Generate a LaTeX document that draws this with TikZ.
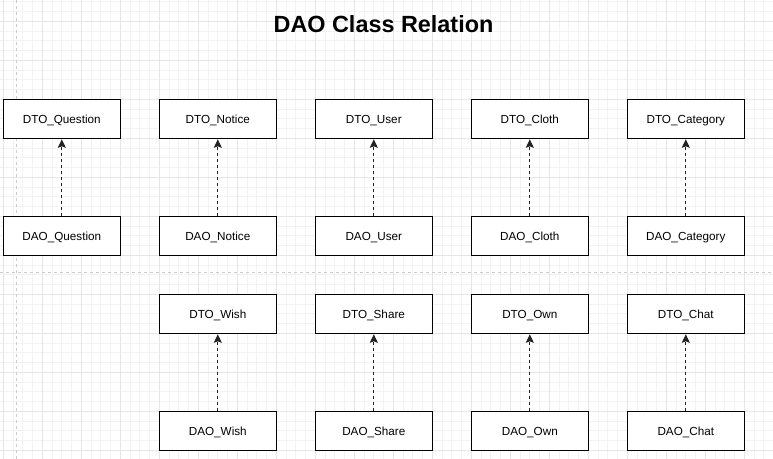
\documentclass[tikz,border=0pt]{standalone}
\usepackage{fontspec}
\setmainfont{Liberation Sans}
\usetikzlibrary{arrows.meta}
\definecolor{gridminor}{HTML}{F3F3F3}
\definecolor{gridmajor}{HTML}{E6E6E6}
\definecolor{sepcol}{HTML}{CCCCCC}
\definecolor{arrcol}{HTML}{222222}
\tikzset{
  cls/.style={draw=black, line width=1bp, fill=white, minimum width=117bp, minimum height=39bp, inner sep=0pt, text height=8.8bp, text depth=0bp, font=\fontsize{11.7bp}{13bp}\selectfont},
  dep/.style={draw=arrcol, line width=1.1bp, dash pattern=on 3bp off 3bp, -{Stealth[length=8.5bp,width=8bp,inset=1.5bp]}, shorten >=0.5bp},
  sep/.style={draw=sepcol, line width=1bp, dash pattern=on 3bp off 3bp}
}
\begin{document}
\begin{tikzpicture}[x=1bp,y=-1bp]
\useasboundingbox (0,0) rectangle (773,459);
\fill[white] (0,0) rectangle (773,459);
% minor grid
\foreach \i in {0,...,79} {
  \pgfmathsetmacro{\gx}{3.3+9.75*\i}
  \draw[gridminor, line width=1bp] (\gx,0) -- (\gx,459);
}
\foreach \i in {0,...,47} {
  \pgfmathsetmacro{\gy}{1.8+9.75*\i}
  \draw[gridminor, line width=1bp] (0,\gy) -- (773,\gy);
}
% major grid
\foreach \i in {0,...,19} {
  \pgfmathsetmacro{\gx}{3.3+39*\i}
  \draw[gridmajor, line width=1bp] (\gx,0) -- (\gx,459);
}
\foreach \i in {0,...,11} {
  \pgfmathsetmacro{\gy}{21.3+39*\i}
  \draw[gridmajor, line width=1bp] (0,\gy) -- (773,\gy);
}
% separators
\coordinate (vs1) at (16.3,0);
\coordinate (vs2) at (16.3,459);
\coordinate (hs1) at (0,273);
\coordinate (hs2) at (773,273);
\draw[sep] (vs1) -- (vs2);
\draw[sep] (hs1) -- (hs2);
% title
\node[anchor=base, font=\fontsize{23.4bp}{26bp}\selectfont\bfseries, inner sep=0pt] (title) at (383.5,33) {DAO Class Relation};
% top section
\node[cls] (dtoQ) at (61.8,118.8) {DTO\_Question};
\node[cls] (daoQ) at (61.8,235.8) {DAO\_Question};
\node[cls] (dtoN) at (217.8,118.8) {DTO\_Notice};
\node[cls] (daoN) at (217.8,235.8) {DAO\_Notice};
\node[cls] (dtoU) at (373.8,118.8) {DTO\_User};
\node[cls] (daoU) at (373.8,235.8) {DAO\_User};
\node[cls] (dtoC) at (529.8,118.8) {DTO\_Cloth};
\node[cls] (daoC) at (529.8,235.8) {DAO\_Cloth};
\node[cls] (dtoK) at (685.8,118.8) {DTO\_Category};
\node[cls] (daoK) at (685.8,235.8) {DAO\_Category};
% bottom section
\node[cls] (dtoW) at (217.8,313.8) {DTO\_Wish};
\node[cls] (daoW) at (217.8,430.8) {DAO\_Wish};
\node[cls] (dtoS) at (373.8,313.8) {DTO\_Share};
\node[cls] (daoS) at (373.8,430.8) {DAO\_Share};
\node[cls] (dtoO) at (529.8,313.8) {DTO\_Own};
\node[cls] (daoO) at (529.8,430.8) {DAO\_Own};
\node[cls] (dtoH) at (685.8,313.8) {DTO\_Chat};
\node[cls] (daoH) at (685.8,430.8) {DAO\_Chat};
% dependencies
\foreach \a/\b in {daoQ/dtoQ, daoN/dtoN, daoU/dtoU, daoC/dtoC, daoK/dtoK, daoW/dtoW, daoS/dtoS, daoO/dtoO, daoH/dtoH} {
  \draw[dep] (\a.north) -- (\b.south);
}
\end{tikzpicture}
\end{document}
